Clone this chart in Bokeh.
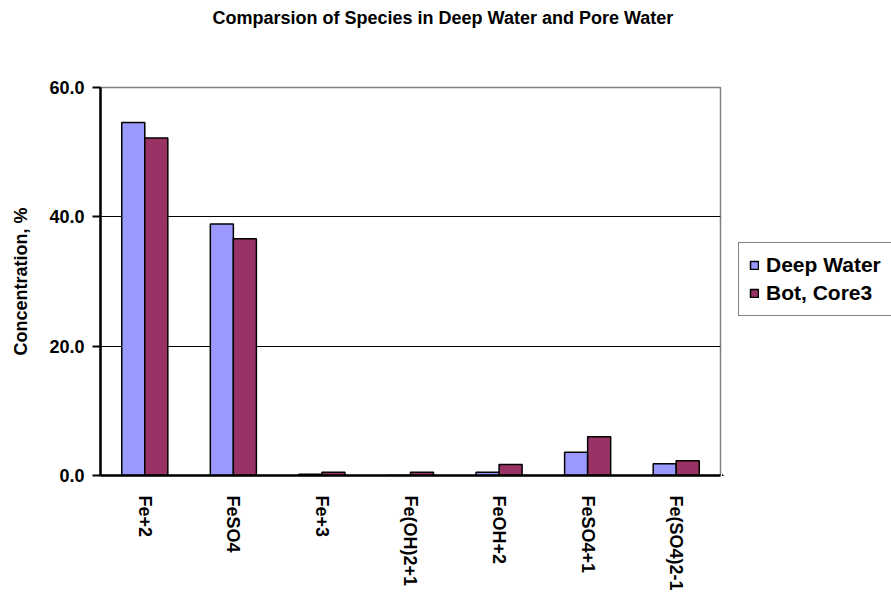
from bokeh.plotting import figure
from bokeh.layouts import row
from bokeh.models import (ColumnDataSource, FactorRange, Range1d, Legend, LegendItem,
                          FixedTicker, CustomJSTickFormatter, Title)
from bokeh.transform import dodge
from bokeh.embed import file_html
from bokeh.resources import INLINE

# Iron species distribution (% of total dissolved Fe)
species = ["Fe+2", "FeSO4", "Fe+3", "Fe(OH)2+1", "FeOH+2", "FeSO4+1", "Fe(SO4)2-1"]
deep_water = [54.6, 38.9, 0.2, 0.0, 0.5, 3.6, 1.8]
bot_core3 = [52.2, 36.6, 0.5, 0.5, 1.7, 6.0, 2.3]
y_ticks = [0, 20, 40, 60]
series_names = ["Deep Water", "Bot, Core3"]
chart_title = "Comparsion of Species in Deep Water and Pore Water"

FONT = "Liberation Sans"
DEEP_COLOR = "#9999FF"
CORE_COLOR = "#993366"

src = ColumnDataSource(data=dict(species=species, deep=deep_water, core=bot_core3))

p = figure(
    width=722, height=594,
    x_range=FactorRange(*species, range_padding=0),
    y_range=Range1d(0, 60),
    output_backend="svg", toolbar_location=None,
    min_border_left=100, min_border_right=2,
    min_border_top=87, min_border_bottom=119,
)

p.title.text = chart_title
p.title.text_font = FONT
p.title.text_font_size = "18px"
p.title.text_font_style = "bold"
p.title.text_color = "black"
p.title.align = "left"
p.title.offset = 112
p.title.standoff = 0

# blank spacer between the frame and the title
p.add_layout(Title(text=" ", text_font_size="1px", standoff=57), "above")

p.vbar(x=dodge("species", -0.13, range=p.x_range), top="deep", width=0.26,
       source=src, fill_color=DEEP_COLOR, line_color="black", line_width=1.5)
p.vbar(x=dodge("species", 0.13, range=p.x_range), top="core", width=0.26,
       source=src, fill_color=CORE_COLOR, line_color="black", line_width=1.5)

# frame and grid
p.outline_line_color = "#808080"
p.outline_line_width = 1.5
p.xgrid.grid_line_color = None
p.ygrid.grid_line_color = "black"
p.ygrid.grid_line_width = 1

# y axis
p.yaxis.ticker = FixedTicker(ticks=y_ticks)
p.yaxis.formatter = CustomJSTickFormatter(code="return tick.toFixed(1);")
p.yaxis.axis_label = "Concentration, %"
p.yaxis.axis_label_text_font = FONT
p.yaxis.axis_label_text_font_size = "18px"
p.yaxis.axis_label_text_font_style = "bold"
p.yaxis.axis_label_text_color = "black"
p.yaxis.axis_label_standoff = 15
p.yaxis.major_label_text_font = FONT
p.yaxis.major_label_text_font_size = "18px"
p.yaxis.major_label_text_font_style = "bold"
p.yaxis.major_label_text_color = "black"
p.yaxis.major_label_standoff = 8
p.yaxis.major_tick_out = 8
p.yaxis.major_tick_in = 0
p.yaxis.minor_tick_line_color = None
p.yaxis.axis_line_width = 2.5
p.yaxis.major_tick_line_width = 2

# x axis
p.xaxis.major_label_orientation = -1.5708
p.xaxis.major_label_text_font = FONT
p.xaxis.major_label_text_font_size = "18px"
p.xaxis.major_label_text_font_style = "bold"
p.xaxis.major_label_text_color = "black"
p.xaxis.major_label_standoff = 14
p.xaxis.major_tick_line_color = None
p.xaxis.axis_line_width = 2.5
p.xaxis.separator_line_color = "black"
p.xaxis.separator_line_width = 2

# legend panel on the right; its key bars are pushed outside the visible ranges
lg = figure(
    width=169, height=594,
    x_range=FactorRange(*species), y_range=Range1d(100, 200),
    x_axis_type=None, y_axis_type=None,
    output_backend="svg", toolbar_location=None,
    min_border_left=0, min_border_right=0,
    min_border_top=87, min_border_bottom=119,
)
lg.grid.visible = False
lg.outline_line_color = None
k_deep = lg.vbar(x=dodge("species", -50, range=lg.x_range), top="deep", width=0.26, source=src,
                 fill_color=DEEP_COLOR, line_color="black", line_width=1.5)
k_core = lg.vbar(x=dodge("species", -50, range=lg.x_range), top="core", width=0.26, source=src,
                 fill_color=CORE_COLOR, line_color="black", line_width=1.5)

legend = Legend(
    items=[LegendItem(label=series_names[0], renderers=[k_deep]),
           LegendItem(label=series_names[1], renderers=[k_core])],
    location=(16, 159),
    label_text_font=FONT, label_text_font_size="21px", label_text_font_style="bold",
    label_text_color="black",
    glyph_width=10, glyph_height=10, label_standoff=7,
    border_line_color="black", border_line_width=1.5,
    padding=10, spacing=4, margin=0,
    background_fill_color="white", background_fill_alpha=1,
)
lg.add_layout(legend, "center")

layout = row(p, lg, spacing=0)
open("out.html", "w").write(file_html(layout, INLINE))
